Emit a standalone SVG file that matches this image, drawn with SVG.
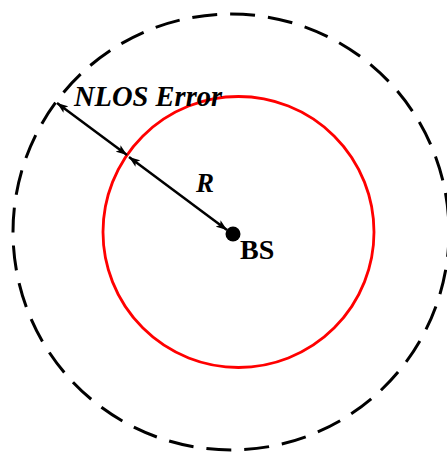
<svg xmlns="http://www.w3.org/2000/svg" width="447" height="452" viewBox="0 0 447 452">
<defs>
<marker id="ah" viewBox="0 0 11 8" refX="11" refY="4" markerWidth="11" markerHeight="8" markerUnits="userSpaceOnUse" orient="auto-start-reverse">
<path d="M0,0 L11,4 L0,8 L2.5,4 Z" fill="#000"/>
</marker>
</defs>
<style>
.lbl{font-family:"Liberation Serif",serif;font-weight:bold;fill:#000}
.it{font-style:italic}
.arr{stroke:#000;stroke-width:2.5;fill:none;marker-start:url(#ah);marker-end:url(#ah)}
</style>
<rect width="447" height="452" fill="#fff"/>
<g id="outer">
<circle cx="231" cy="232" r="218" fill="none" stroke="#000" stroke-width="3" stroke-dasharray="25 13"/>
</g>
<g id="inner">
<circle cx="238.5" cy="232" r="135.5" fill="none" stroke="#ff0000" stroke-width="2.8"/>
</g>
<g id="bs">
<circle cx="233" cy="234" r="7.5" fill="#000"/>
<text class="lbl" x="240" y="259" font-size="28">BS</text>
</g>
<g id="connectors">
<line class="arr" x1="57" y1="103" x2="127" y2="155"/>
<line class="arr" x1="129" y1="157" x2="227" y2="230"/>
</g>
<g id="labels">
<text class="lbl it" x="74" y="106" font-size="28.5">NLOS Error</text>
<text class="lbl it" x="196" y="192" font-size="27">R</text>
</g>
</svg>
